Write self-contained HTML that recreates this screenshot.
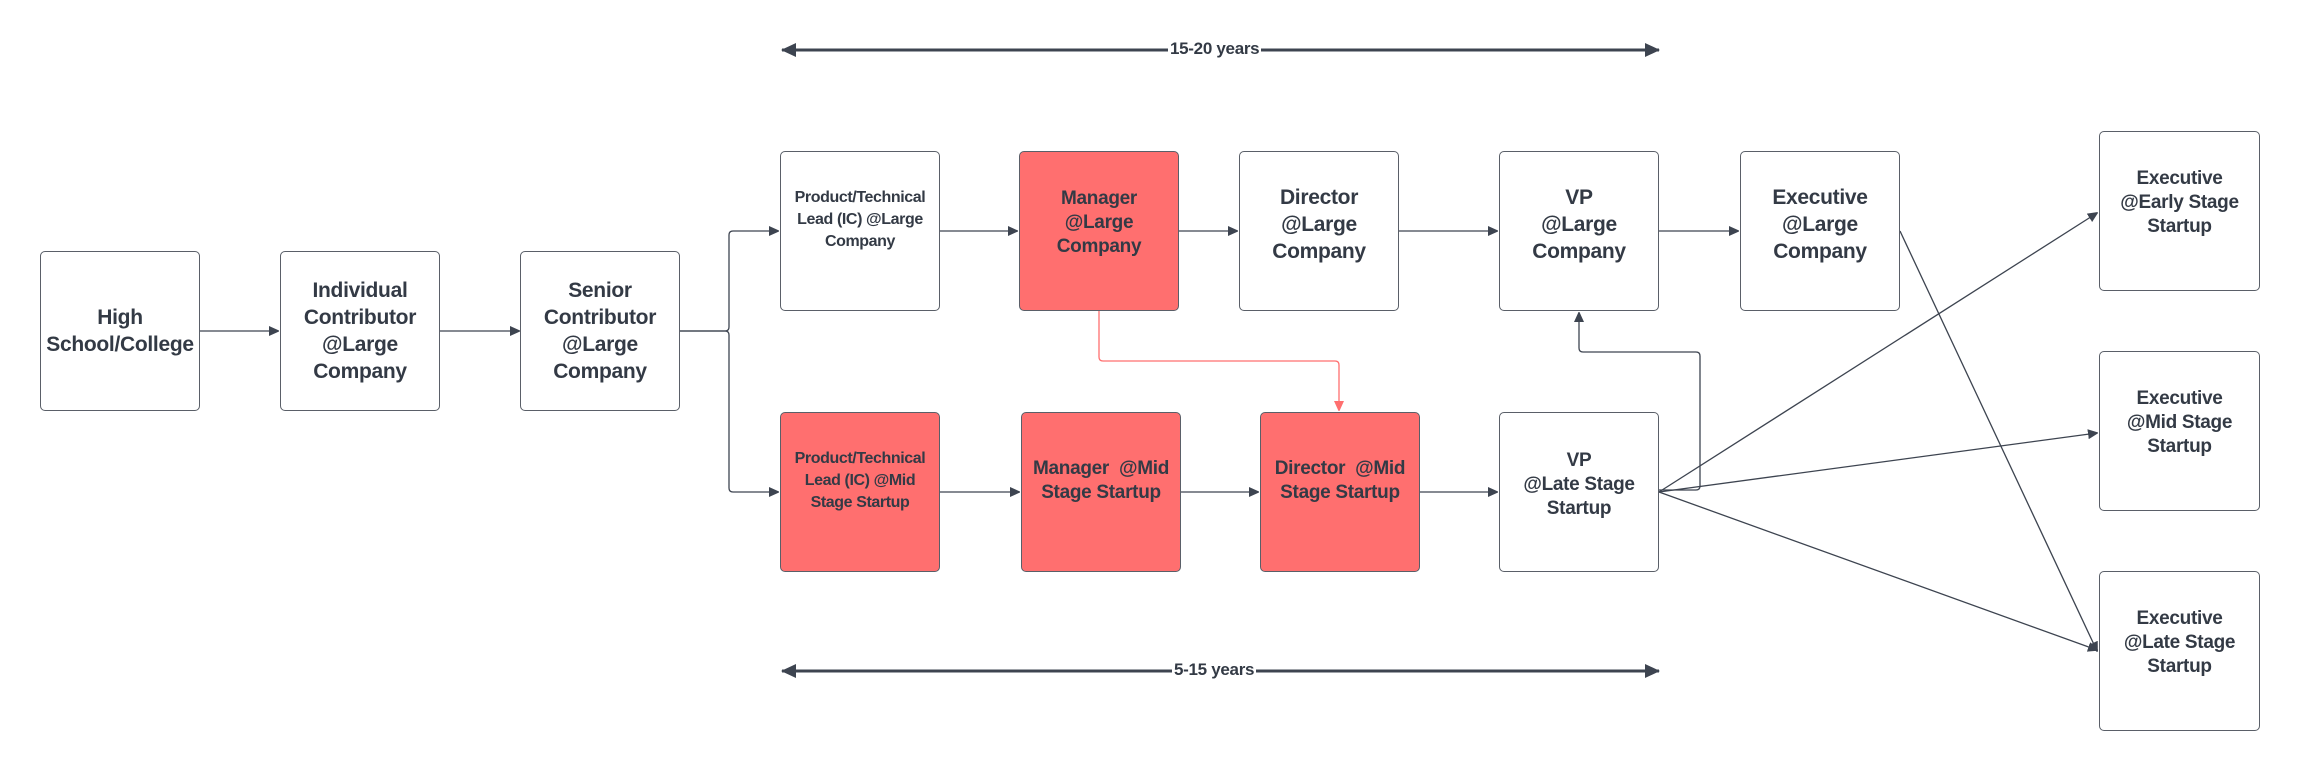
<!DOCTYPE html>
<html><head><meta charset="utf-8"><style>
html,body{margin:0;padding:0;background:#fff}
body{width:2300px;height:771px;position:relative;overflow:hidden;font-family:"Liberation Sans",sans-serif;font-weight:bold;color:#333a45}
.b{position:absolute;box-sizing:border-box;border:1.5px solid #5a5f68;border-radius:5px;background:#fff;display:flex;align-items:center;justify-content:center;text-align:center;font-size:21px;line-height:27px;letter-spacing:-0.3px}
.r{background:#ff6f6f}
.s{font-size:16px;line-height:22px;letter-spacing:-0.4px}
.m{font-size:19px;line-height:24px}
svg{position:absolute;left:0;top:0}
.lbl{position:absolute;font-size:17px;background:#fff;padding:0 2px;letter-spacing:-0.3px}
</style></head><body>
<svg width="2300" height="771" viewBox="0 0 2300 771">
<defs>
<marker id="a" markerWidth="10" markerHeight="10" refX="9" refY="5" orient="auto" markerUnits="userSpaceOnUse"><path d="M0,0 L11,5 L0,10 z" fill="#3d4450"/></marker>
<marker id="ar" markerWidth="10" markerHeight="12" refX="9" refY="5" orient="auto" markerUnits="userSpaceOnUse"><path d="M0,0 L11,5 L0,10 z" fill="#ff6f6f"/></marker>
<marker id="big" markerWidth="16" markerHeight="16" refX="14" refY="7" orient="auto" markerUnits="userSpaceOnUse"><path d="M0,0 L15,7 L0,14 z" fill="#3d4450"/></marker>
</defs>
<g stroke="#3d4450" stroke-width="3" fill="none">
<line x1="1217" y1="50" x2="782" y2="50" marker-end="url(#big)"/>
<line x1="1217" y1="50" x2="1659" y2="50" marker-end="url(#big)"/>
<line x1="1217" y1="671" x2="782" y2="671" marker-end="url(#big)"/>
<line x1="1217" y1="671" x2="1659" y2="671" marker-end="url(#big)"/>
</g>
<g stroke="#3d4450" stroke-width="1.3" fill="none">
<line x1="200" y1="331" x2="278" y2="331" marker-end="url(#a)"/>
<line x1="440" y1="331" x2="519" y2="331" marker-end="url(#a)"/>
<path d="M679,331 H725 Q729,331 729,327 V235 Q729,231 733,231 H778" marker-end="url(#a)"/>
<path d="M679,331 H725 Q729,331 729,335 V488 Q729,492 733,492 H778" marker-end="url(#a)"/>
<line x1="940" y1="231" x2="1017" y2="231" marker-end="url(#a)"/>
<line x1="1179" y1="231" x2="1237" y2="231" marker-end="url(#a)"/>
<line x1="1399" y1="231" x2="1497" y2="231" marker-end="url(#a)"/>
<line x1="1659" y1="231" x2="1738" y2="231" marker-end="url(#a)"/>
<line x1="940" y1="492" x2="1019" y2="492" marker-end="url(#a)"/>
<line x1="1181" y1="492" x2="1258" y2="492" marker-end="url(#a)"/>
<line x1="1420" y1="492" x2="1497" y2="492" marker-end="url(#a)"/>
<path d="M1659,490 H1696 Q1700,490 1700,486 V356 Q1700,352 1696,352 H1583 Q1579,352 1579,348 V313" marker-end="url(#a)"/>
<line x1="1659" y1="492" x2="2097" y2="213" marker-end="url(#a)"/>
<line x1="1659" y1="492" x2="2097" y2="433" marker-end="url(#a)"/>
<line x1="1659" y1="492" x2="2097" y2="650" marker-end="url(#a)"/>
<line x1="1900" y1="231" x2="2097" y2="651" marker-end="url(#a)"/>
</g>
<path d="M1099,311 V357 Q1099,361 1103,361 H1335 Q1339,361 1339,365 V410" stroke="#ff6f6f" stroke-width="1.3" fill="none" marker-end="url(#ar)"/>
</svg>
<div class="lbl" style="left:1168px;top:39px">15-20 years</div>
<div class="lbl" style="left:1172px;top:660px">5-15 years</div>

<div class="b" style="left:40px;top:251px;width:160px;height:160px">High<br>School/College</div>
<div class="b" style="left:280px;top:251px;width:160px;height:160px">Individual<br>Contributor<br>@Large<br>Company</div>
<div class="b" style="left:520px;top:251px;width:160px;height:160px">Senior<br>Contributor<br>@Large<br>Company</div>

<div class="b s" style="left:780px;top:151px;width:160px;height:160px;padding-bottom:22px">Product/Technical<br>Lead (IC) @Large<br>Company</div>
<div class="b r m" style="left:1019px;top:151px;width:160px;height:160px;padding-bottom:16px">Manager<br>@Large<br>Company</div>
<div class="b" style="left:1239px;top:151px;width:160px;height:160px;padding-bottom:14px">Director<br>@Large<br>Company</div>
<div class="b" style="left:1499px;top:151px;width:160px;height:160px;padding-bottom:14px">VP<br>@Large<br>Company</div>
<div class="b" style="left:1740px;top:151px;width:160px;height:160px;padding-bottom:14px">Executive<br>@Large<br>Company</div>

<div class="b r s" style="left:780px;top:412px;width:160px;height:160px;padding-bottom:22px">Product/Technical<br>Lead (IC) @Mid<br>Stage Startup</div>
<div class="b r m" style="left:1021px;top:412px;width:160px;height:160px;padding-bottom:22px">Manager&nbsp; @Mid<br>Stage Startup</div>
<div class="b r m" style="left:1260px;top:412px;width:160px;height:160px;padding-bottom:22px">Director&nbsp; @Mid<br>Stage Startup</div>
<div class="b m" style="left:1499px;top:412px;width:160px;height:160px;padding-bottom:14px">VP<br>@Late Stage<br>Startup</div>

<div class="b m" style="left:2099px;top:131px;width:161px;height:160px;padding-bottom:16px">Executive<br>@Early Stage<br>Startup</div>
<div class="b m" style="left:2099px;top:351px;width:161px;height:160px;padding-bottom:16px">Executive<br>@Mid Stage<br>Startup</div>
<div class="b m" style="left:2099px;top:571px;width:161px;height:160px;padding-bottom:16px">Executive<br>@Late Stage<br>Startup</div>
</body></html>
